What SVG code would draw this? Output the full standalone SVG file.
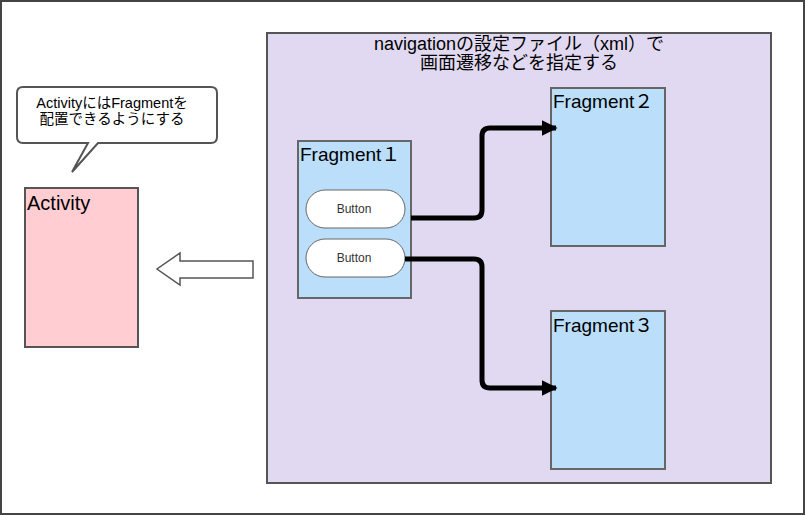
<svg xmlns="http://www.w3.org/2000/svg" width="805" height="515" viewBox="0 0 805 515">
<defs>
<style>
.t{font-family:"Liberation Sans","Noto Sans CJK JP",sans-serif;fill:#000}
.box{stroke:#555;stroke-width:2}
.frag{fill:#bbdefb;stroke:#666;stroke-width:2}
.btn{fill:#fff;stroke:#666;stroke-width:1}
.conn{fill:none;stroke:#000;stroke-width:5;stroke-linejoin:round}
</style>
<marker id="ah" viewBox="0 0 10 10" refX="9" refY="5" markerWidth="3.2" markerHeight="3.6" orient="auto" markerUnits="strokeWidth">
<path d="M0,0 L10,5 L0,10 Z" fill="#000"/>
</marker>
</defs>
<rect x="0" y="0" width="805" height="515" fill="#fff"/>
<rect x="1" y="1" width="803" height="513" fill="none" stroke="#444" stroke-width="2"/>

<g id="navigation">
<rect x="267" y="33" width="504" height="450" fill="#e1d9f1" class="box"/>
<text class="t" font-size="18" text-anchor="middle"><tspan x="519" y="50">navigationの設定ファイル（xml）で</tspan><tspan x="519" y="69">画面遷移などを指定する</tspan></text>
</g>

<g id="callout">
<path d="M23,87 H211 Q217,87 217,93 V137 Q217,143 211,143 H98 L72,172 L88,143 H23 Q17,143 17,137 V93 Q17,87 23,87 Z" fill="#fff" stroke="#555" stroke-width="2"/>
<text class="t" font-size="14.5" text-anchor="middle"><tspan x="112" y="108">ActivityにはFragmentを</tspan><tspan x="112" y="124">配置できるようにする</tspan></text>
</g>

<g id="activity">
<rect x="25" y="188" width="113" height="159" fill="#ffcdd2" class="box"/>
<text class="t" x="27" y="210" font-size="20">Activity</text>
</g>

<g id="fragment1">
<rect x="298" y="141" width="113" height="157" class="frag"/>
<text class="t" x="300" y="161" font-size="19">Fragment１</text>
</g>
<g id="button1">
<rect x="306" y="190" width="99" height="38" rx="19" class="btn"/>
<text class="t" x="354" y="213" font-size="12" text-anchor="middle" style="fill:#333">Button</text>
</g>
<g id="button2">
<rect x="306" y="239" width="99" height="38" rx="19" class="btn"/>
<text class="t" x="354" y="262" font-size="12" text-anchor="middle" style="fill:#333">Button</text>
</g>

<g id="fragment2">
<rect x="551" y="88" width="114" height="158" class="frag"/>
<text class="t" x="553" y="108" font-size="19">Fragment２</text>
</g>
<g id="fragment3">
<rect x="551" y="311" width="114" height="158" class="frag"/>
<text class="t" x="553" y="332" font-size="19">Fragment３</text>
</g>

<g id="connectors">
<path class="conn" d="M411,218 H474 Q482,218 482,210 V136 Q482,128 490,128 H556" marker-end="url(#ah)"/>
<path class="conn" d="M405,259 H474 Q482,259 482,267 V380 Q482,388 490,388 H556" marker-end="url(#ah)"/>
<path d="M253,261 H180 V253 L157,269 L180,285 V278 H253 Z" fill="#fff" stroke="#555" stroke-width="1.5"/>
</g>
</svg>
